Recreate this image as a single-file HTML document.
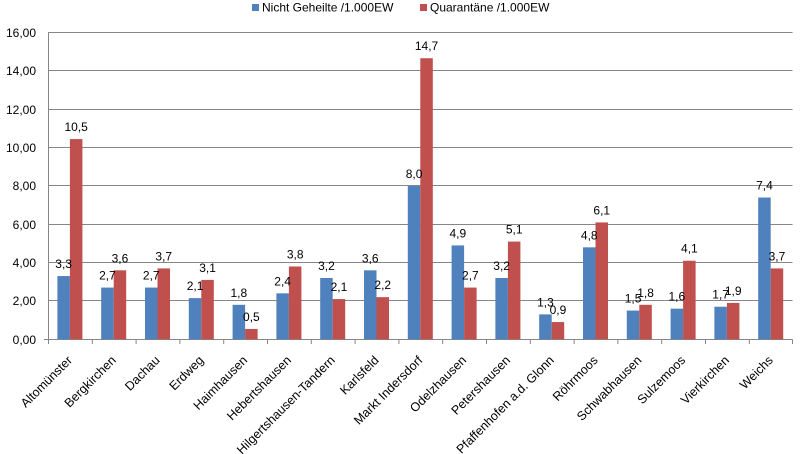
<!DOCTYPE html>
<html><head><meta charset="utf-8"><style>
html,body{margin:0;padding:0;background:#fff;}
svg{display:block;font-family:"Liberation Sans",Arial,sans-serif;}
</style></head><body>
<svg width="804" height="454" viewBox="0 0 804 454" xmlns="http://www.w3.org/2000/svg">
<rect width="804" height="454" fill="#fff"/>
<!-- legend -->
<rect x="252" y="4" width="7" height="7" fill="#4F81BD"/>
<text x="262" y="11.5" font-size="12" fill="#000">Nicht Geheilte /1.000EW</text>
<rect x="420" y="4" width="7" height="7" fill="#C0504D"/>
<text x="430" y="11.5" font-size="12" fill="#000">Quarantäne /1.000EW</text>
<!-- gridlines -->
<g stroke="#868686" stroke-width="1">
<line x1="48" y1="32.5" x2="792.5" y2="32.5"/>
<line x1="48" y1="70.5" x2="792.5" y2="70.5"/>
<line x1="48" y1="109.5" x2="792.5" y2="109.5"/>
<line x1="48" y1="147.5" x2="792.5" y2="147.5"/>
<line x1="48" y1="185.5" x2="792.5" y2="185.5"/>
<line x1="48" y1="224.5" x2="792.5" y2="224.5"/>
<line x1="48" y1="262.5" x2="792.5" y2="262.5"/>
<line x1="48" y1="300.5" x2="792.5" y2="300.5"/>
<line x1="44" y1="339.5" x2="792.5" y2="339.5"/>
<line x1="48.5" y1="32.5" x2="48.5" y2="344"/>
<line x1="92.3" y1="339.5" x2="92.3" y2="344"/>
<line x1="136.1" y1="339.5" x2="136.1" y2="344"/>
<line x1="179.9" y1="339.5" x2="179.9" y2="344"/>
<line x1="223.7" y1="339.5" x2="223.7" y2="344"/>
<line x1="267.5" y1="339.5" x2="267.5" y2="344"/>
<line x1="311.3" y1="339.5" x2="311.3" y2="344"/>
<line x1="355.1" y1="339.5" x2="355.1" y2="344"/>
<line x1="398.9" y1="339.5" x2="398.9" y2="344"/>
<line x1="442.7" y1="339.5" x2="442.7" y2="344"/>
<line x1="486.5" y1="339.5" x2="486.5" y2="344"/>
<line x1="530.3" y1="339.5" x2="530.3" y2="344"/>
<line x1="574.1" y1="339.5" x2="574.1" y2="344"/>
<line x1="617.9" y1="339.5" x2="617.9" y2="344"/>
<line x1="661.7" y1="339.5" x2="661.7" y2="344"/>
<line x1="705.5" y1="339.5" x2="705.5" y2="344"/>
<line x1="749.3" y1="339.5" x2="749.3" y2="344"/>
<line x1="792.5" y1="339.5" x2="792.5" y2="344"/>
</g>
<!-- y labels -->
<g font-size="12" fill="#000" text-anchor="end">
<text x="36" y="37">16,00</text>
<text x="36" y="75">14,00</text>
<text x="36" y="114">12,00</text>
<text x="36" y="152">10,00</text>
<text x="36" y="190">8,00</text>
<text x="36" y="229">6,00</text>
<text x="36" y="267">4,00</text>
<text x="36" y="305">2,00</text>
<text x="36" y="344">0,00</text>
</g>
<!-- blue bars -->
<g fill="#4F81BD">
<rect x="57.39" y="276.07" width="12.51" height="63.23"/>
<rect x="101.19" y="287.57" width="12.51" height="51.73"/>
<rect x="144.99" y="287.57" width="12.51" height="51.73"/>
<rect x="188.79" y="298.11" width="12.51" height="41.19"/>
<rect x="232.59" y="304.81" width="12.51" height="34.49"/>
<rect x="276.39" y="293.32" width="12.51" height="45.98"/>
<rect x="320.19" y="277.99" width="12.51" height="61.31"/>
<rect x="363.99" y="270.32" width="12.51" height="68.98"/>
<rect x="407.79" y="186.02" width="12.51" height="153.28"/>
<rect x="451.59" y="245.42" width="12.51" height="93.88"/>
<rect x="495.39" y="277.99" width="12.51" height="61.31"/>
<rect x="539.19" y="314.39" width="12.51" height="24.91"/>
<rect x="582.99" y="247.33" width="12.51" height="91.97"/>
<rect x="626.79" y="310.56" width="12.51" height="28.74"/>
<rect x="670.59" y="308.64" width="12.51" height="30.66"/>
<rect x="714.39" y="306.73" width="12.51" height="32.57"/>
<rect x="758.19" y="197.52" width="12.51" height="141.78"/>
</g>
<!-- red bars -->
<g fill="#C0504D">
<rect x="69.90" y="139.08" width="12.51" height="200.22"/>
<rect x="113.70" y="270.32" width="12.51" height="68.98"/>
<rect x="157.50" y="268.41" width="12.51" height="70.89"/>
<rect x="201.30" y="279.90" width="12.51" height="59.40"/>
<rect x="245.10" y="328.95" width="12.51" height="10.35"/>
<rect x="288.90" y="266.49" width="12.51" height="72.81"/>
<rect x="332.70" y="299.06" width="12.51" height="40.24"/>
<rect x="376.50" y="297.15" width="12.51" height="42.15"/>
<rect x="420.30" y="58.22" width="12.51" height="281.08"/>
<rect x="464.10" y="287.57" width="12.51" height="51.73"/>
<rect x="507.90" y="241.58" width="12.51" height="97.72"/>
<rect x="551.70" y="322.06" width="12.51" height="17.24"/>
<rect x="595.50" y="222.42" width="12.51" height="116.88"/>
<rect x="639.30" y="304.81" width="12.51" height="34.49"/>
<rect x="683.10" y="260.74" width="12.51" height="78.56"/>
<rect x="726.90" y="302.90" width="12.51" height="36.40"/>
<rect x="770.70" y="268.41" width="12.51" height="70.89"/>
</g>
<!-- data labels -->
<g font-size="12" fill="#000" text-anchor="middle">
<text x="63.65" y="268.1">3,3</text>
<text x="107.45" y="279.6">2,7</text>
<text x="151.25" y="279.6">2,7</text>
<text x="195.05" y="290.1">2,1</text>
<text x="238.85" y="296.8">1,8</text>
<text x="282.65" y="285.3">2,4</text>
<text x="326.45" y="270.0">3,2</text>
<text x="370.25" y="262.3">3,6</text>
<text x="414.05" y="178.0">8,0</text>
<text x="457.85" y="237.4">4,9</text>
<text x="501.65" y="270.0">3,2</text>
<text x="545.45" y="306.4">1,3</text>
<text x="589.25" y="239.3">4,8</text>
<text x="633.05" y="302.6">1,5</text>
<text x="676.85" y="300.6">1,6</text>
<text x="720.65" y="298.7">1,7</text>
<text x="764.45" y="189.5">7,4</text>

<text x="76.16" y="131.1">10,5</text>
<text x="119.96" y="262.3">3,6</text>
<text x="163.76" y="260.4">3,7</text>
<text x="207.56" y="271.9">3,1</text>
<text x="251.36" y="321.0">0,5</text>
<text x="295.16" y="258.5">3,8</text>
<text x="338.96" y="291.1">2,1</text>
<text x="382.76" y="289.2">2,2</text>
<text x="426.56" y="50.2">14,7</text>
<text x="470.36" y="279.6">2,7</text>
<text x="514.16" y="233.6">5,1</text>
<text x="557.96" y="314.1">0,9</text>
<text x="601.76" y="214.4">6,1</text>
<text x="645.56" y="296.8">1,8</text>
<text x="689.36" y="252.7">4,1</text>
<text x="733.16" y="294.9">1,9</text>
<text x="776.96" y="260.4">3,7</text>
</g>
<!-- category labels -->
<g font-size="12.5" fill="#000" text-anchor="end">
<text transform="translate(72.9,361) rotate(-45)">Altomünster</text>
<text transform="translate(116.7,361) rotate(-45)">Bergkirchen</text>
<text transform="translate(160.5,361) rotate(-45)">Dachau</text>
<text transform="translate(204.3,361) rotate(-45)">Erdweg</text>
<text transform="translate(248.1,361) rotate(-45)">Haimhausen</text>
<text transform="translate(291.9,361) rotate(-45)">Hebertshausen</text>
<text transform="translate(335.7,361) rotate(-45)">Hilgertshausen-Tandern</text>
<text transform="translate(379.5,361) rotate(-45)">Karlsfeld</text>
<text transform="translate(423.3,361) rotate(-45)">Markt Indersdorf</text>
<text transform="translate(467.1,361) rotate(-45)">Odelzhausen</text>
<text transform="translate(510.9,361) rotate(-45)">Petershausen</text>
<text transform="translate(554.7,361) rotate(-45)">Pfaffenhofen a.d. Glonn</text>
<text transform="translate(598.5,361) rotate(-45)">Röhrmoos</text>
<text transform="translate(642.3,361) rotate(-45)">Schwabhausen</text>
<text transform="translate(686.1,361) rotate(-45)">Sulzemoos</text>
<text transform="translate(729.9,361) rotate(-45)">Vierkirchen</text>
<text transform="translate(773.7,361) rotate(-45)">Weichs</text>
</g>
</svg>
</body></html>
